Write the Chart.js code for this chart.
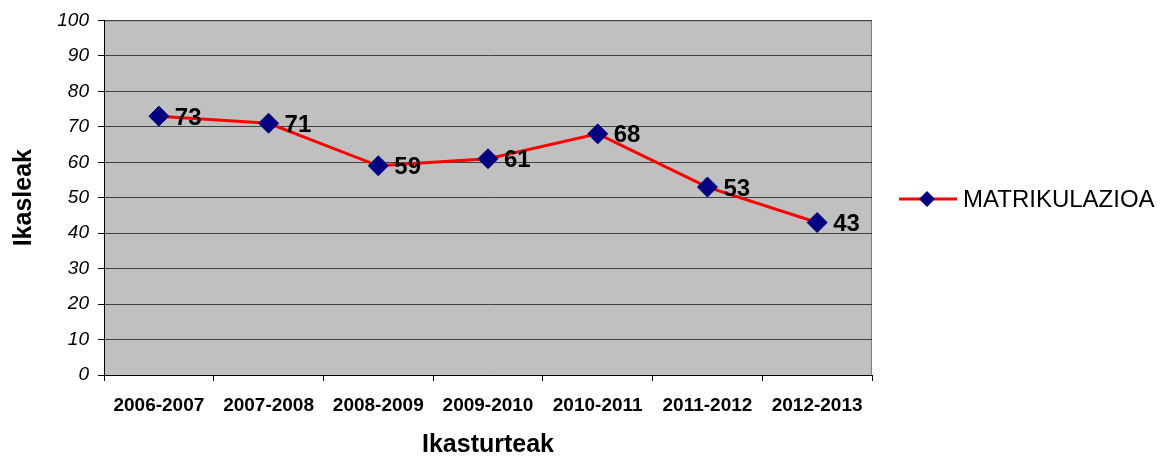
<!DOCTYPE html>
<html>
<head>
<meta charset="utf-8">
<script src="https://cdn.jsdelivr.net/npm/chart.js@4"></script>
<style>
  html, body { margin: 0; padding: 0; background: #fff; }
  #wrap { width: 1164px; height: 458px; }
</style>
</head>
<body>
<div id="wrap"><canvas id="grafica" width="1164" height="458"></canvas></div>
<script>
const ikasturteak = ['2006-2007','2007-2008','2008-2009','2009-2010','2010-2011','2011-2012','2012-2013'];
const matrikulazioa = [73, 71, 59, 61, 68, 53, 43];
const serieIzena = 'MATRIKULAZIOA';

const letra = 'Arial, "Liberation Sans", sans-serif';

// gray plot area with border
const atzealdea = {
    id: 'atzealdea',
    beforeDraw(chart) {
        const { ctx, chartArea: a } = chart;
        ctx.save();
        ctx.fillStyle = '#c0c0c0';
        ctx.fillRect(a.left, a.top, a.right - a.left, a.bottom - a.top);
        ctx.strokeStyle = '#808080';
        ctx.lineWidth = 1;
        ctx.strokeRect(a.left + 0.5, a.top + 0.5, a.right - a.left - 1, a.bottom - a.top);
        ctx.restore();
    }
};

// value labels to the right of each point + legend
const etiketak = {
    id: 'etiketak',
    afterDatasetsDraw(chart) {
        const { ctx } = chart;
        const meta = chart.getDatasetMeta(0);
        ctx.save();
        ctx.font = 'bold 24px ' + letra;
        ctx.fillStyle = '#000';
        ctx.textAlign = 'left';
        ctx.textBaseline = 'middle';
        meta.data.forEach((p, i) => {
            ctx.fillText(String(matrikulazioa[i]), p.x + 16, p.y + 2);
        });
        // legend
        const ly = 199;
        ctx.strokeStyle = '#ff0000';
        ctx.lineWidth = 3;
        ctx.beginPath();
        ctx.moveTo(899, ly);
        ctx.lineTo(957, ly);
        ctx.stroke();
        ctx.fillStyle = '#000080';
        ctx.beginPath();
        ctx.moveTo(927, ly - 8);
        ctx.lineTo(935, ly);
        ctx.lineTo(927, ly + 8);
        ctx.lineTo(919, ly);
        ctx.closePath();
        ctx.fill();
        ctx.fillStyle = '#000';
        ctx.font = '24px ' + letra;
        ctx.fillText(serieIzena, 963, ly + 1);
        ctx.restore();
    }
};

new Chart(document.querySelector('#grafica'), {
    type: 'line',
    data: {
        labels: ikasturteak,
        datasets: [{
            label: serieIzena,
            data: matrikulazioa,
            borderColor: '#ff0000',
            borderWidth: 3,
            pointStyle: 'rectRot',
            pointRadius: 10,
            pointBackgroundColor: '#000080',
            pointBorderColor: '#000080',
            pointBorderWidth: 1,
            tension: 0
        }]
    },
    options: {
        responsive: false,
        animation: false,
        layout: { padding: { left: 0, top: 20, right: 292, bottom: 0 } },
        plugins: {
            legend: { display: false },
            tooltip: { enabled: false }
        },
        scales: {
            x: {
                offset: true,
                afterFit(s) { s.height = 83; },
                grid: {
                    offset: true,
                    drawOnChartArea: false,
                    drawTicks: true,
                    tickLength: 6,
                    color: '#000'
                },
                border: { color: '#000', width: 1 },
                ticks: {
                    color: '#000',
                    padding: 13,
                    maxRotation: 0,
                    autoSkip: false,
                    font: { family: letra, size: 19, weight: 'bold' }
                },
                title: {
                    display: true,
                    text: 'Ikasturteak',
                    color: '#000',
                    padding: { top: 0, bottom: 0 },
                    font: { family: letra, size: 25, weight: 'bold', lineHeight: 1 }
                }
            },
            y: {
                min: 0,
                max: 100,
                afterFit(s) { s.width = 104; },
                grid: {
                    color: '#404040',
                    drawTicks: true,
                    tickLength: 6,
                    tickColor: '#000'
                },
                border: { color: '#000', width: 1 },
                ticks: {
                    stepSize: 10,
                    color: '#000',
                    padding: 9,
                    font: { family: letra, size: 19, style: 'italic' }
                },
                title: {
                    display: true,
                    text: 'Ikasleak',
                    color: '#000',
                    padding: { top: 9, bottom: 0 },
                    font: { family: letra, size: 25, weight: 'bold', lineHeight: 1.2 }
                }
            }
        }
    },
    plugins: [atzealdea, etiketak]
});
</script>
</body>
</html>
